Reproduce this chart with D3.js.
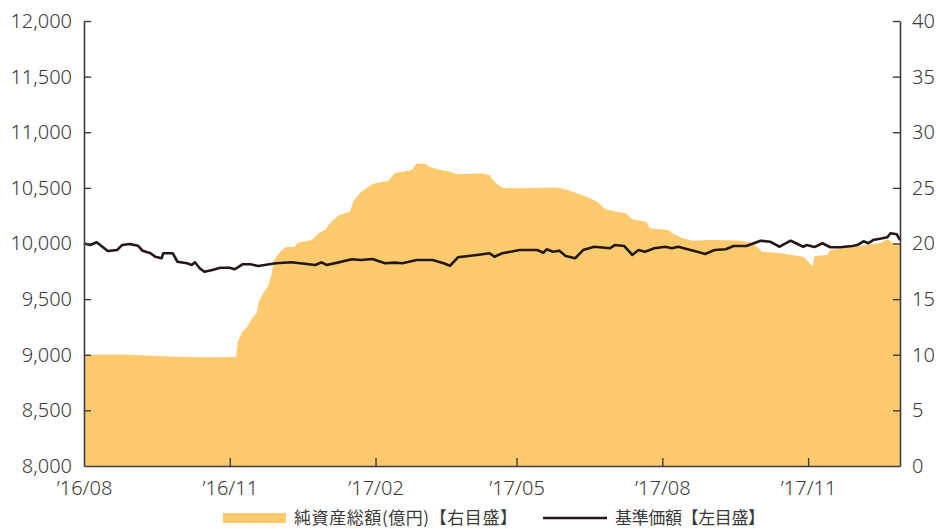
<!DOCTYPE html>
<html>
<head>
<meta charset="utf-8">
<script src="https://cdn.jsdelivr.net/npm/d3@7/dist/d3.min.js"></script>
<style>
  html, body { margin: 0; padding: 0; background: #ffffff; }
  svg { display: block; }
  text { font-family: "Noto Sans", "Noto Sans CJK JP", sans-serif; fill: #3a3a3a; }
  .legend text { font-family: "Noto Sans CJK JP", sans-serif; }
</style>
</head>
<body>
<svg id="chart" width="936" height="529"></svg>
<script>
// ---------- data ----------
const navDates = ["2016-08-01","2016-08-05","2016-08-09","2016-08-16","2016-08-22","2016-08-25","2016-08-30","2016-09-04","2016-09-07","2016-09-12","2016-09-15","2016-09-19","2016-09-20","2016-09-26","2016-09-29","2016-10-05","2016-10-08","2016-10-10","2016-10-13","2016-10-16","2016-10-21","2016-10-26","2016-11-01","2016-11-04","2016-11-09","2016-11-14","2016-11-19","2016-11-30","2016-12-10","2016-12-25","2016-12-29","2017-01-01","2017-01-08","2017-01-17","2017-01-23","2017-01-30","2017-02-07","2017-02-13","2017-02-18","2017-02-27","2017-03-09","2017-03-16","2017-03-20","2017-03-25","2017-04-06","2017-04-14","2017-04-17","2017-04-22","2017-05-03","2017-05-14","2017-05-18","2017-05-20","2017-05-24","2017-05-28","2017-06-01","2017-06-07","2017-06-12","2017-06-19","2017-06-29","2017-07-02","2017-07-08","2017-07-13","2017-07-17","2017-07-21","2017-07-27","2017-08-03","2017-08-07","2017-08-11","2017-08-17","2017-08-23","2017-08-28","2017-09-03","2017-09-10","2017-09-15","2017-09-23","2017-10-02","2017-10-08","2017-10-14","2017-10-21","2017-10-29","2017-10-31","2017-11-05","2017-11-10","2017-11-15","2017-11-21","2017-11-29","2017-12-02","2017-12-06","2017-12-09","2017-12-12","2017-12-18","2017-12-21","2017-12-23","2017-12-27","2017-12-29"];
const navValues = [10000,9986,10011,9933,9942,9986,9995,9980,9935,9912,9881,9867,9912,9912,9836,9822,9807,9831,9777,9746,9762,9782,9782,9768,9813,9813,9798,9822,9831,9807,9831,9807,9828,9858,9852,9861,9822,9828,9822,9852,9852,9822,9800,9876,9897,9912,9881,9912,9941,9941,9917,9948,9926,9935,9888,9867,9941,9971,9957,9986,9977,9897,9941,9926,9957,9971,9957,9971,9948,9926,9906,9941,9948,9977,9977,10025,10016,9971,10025,9971,9986,9968,10002,9966,9966,9977,9986,10020,10002,10031,10047,10056,10092,10083,10031];

const aumDates = ["2016-08-01","2016-08-30","2016-09-28","2016-10-17","2016-11-04","2016-11-05","2016-11-06","2016-11-09","2016-11-12","2016-11-15","2016-11-18","2016-11-19","2016-11-22","2016-11-25","2016-11-27","2016-11-29","2016-12-02","2016-12-06","2016-12-12","2016-12-14","2016-12-23","2016-12-27","2016-12-31","2017-01-04","2017-01-09","2017-01-16","2017-01-18","2017-01-23","2017-01-30","2017-02-05","2017-02-09","2017-02-13","2017-02-24","2017-02-27","2017-03-05","2017-03-07","2017-03-12","2017-03-20","2017-03-24","2017-03-30","2017-04-09","2017-04-14","2017-04-16","2017-04-18","2017-04-22","2017-05-01","2017-05-26","2017-06-01","2017-06-08","2017-06-15","2017-06-21","2017-06-26","2017-07-03","2017-07-09","2017-07-13","2017-07-22","2017-07-24","2017-08-05","2017-08-07","2017-08-13","2017-08-20","2017-08-31","2017-09-19","2017-09-27","2017-10-03","2017-10-14","2017-10-22","2017-10-29","2017-11-02","2017-11-04","2017-11-05","2017-11-13","2017-11-15","2017-11-29","2017-12-16","2017-12-21","2017-12-25","2017-12-29"];
const aumValues = [10.0,10.0,9.83,9.77,9.8,9.8,11.17,12.07,12.52,13.28,13.73,14.62,15.52,16.12,17.02,18.52,19.12,19.66,19.71,20.07,20.31,20.92,21.21,21.96,22.56,22.86,23.82,24.66,25.35,25.56,25.62,26.31,26.61,27.21,27.15,26.9,26.67,26.45,26.25,26.25,26.31,26.16,25.71,25.41,25.02,24.96,25.04,24.87,24.51,24.15,23.76,23.07,22.86,22.71,22.16,21.96,21.37,21.21,20.92,20.52,20.25,20.31,20.28,20.04,19.26,19.15,18.97,18.81,18.22,17.98,18.88,18.97,19.42,19.71,20.02,20.38,20.02,19.96];

const leftTicks = [8000,8500,9000,9500,10000,10500,11000,11500,12000];
const rightTicks = [0,5,10,15,20,25,30,35,40];
const xTickDates = ["2016-08-01","2016-11-01","2017-02-01","2017-05-01","2017-08-01","2017-11-01"];
const xTickLabels = ["’16/08","’16/11","’17/02","’17/05","’17/08","’17/11"];
const xDomain = ["2016-08-01","2017-12-29"];
const legendLabels = ["純資産総額(億円)【右目盛】","基準価額【左目盛】"];

// ---------- chart ----------
const parse = d3.timeParse("%Y-%m-%d");
const margin = {top: 21, right: 36, bottom: 63, left: 84};
const W = 936, H = 529;
const iw = W - margin.left - margin.right;
const ih = H - margin.top - margin.bottom;

const svg = d3.select("#chart");
const g = svg.append("g").attr("transform", `translate(${margin.left},${margin.top})`);

const x = d3.scaleTime().domain(xDomain.map(parse)).range([0, iw]);
const yL = d3.scaleLinear().domain([8000, 12000]).range([ih, 0]);
const yR = d3.scaleLinear().domain([0, 40]).range([ih, 0]);

const aum = aumDates.map((d, i) => ({date: parse(d), v: aumValues[i]}));
const nav = navDates.map((d, i) => ({date: parse(d), v: navValues[i]}));

const areaColor = "#fdcb6e";
const lineColor = "#231815";
const axisColor = "#3c3c3c";

g.append("path")
  .datum(aum)
  .attr("fill", areaColor)
  .attr("d", d3.area().x(d => x(d.date)).y0(yR(0)).y1(d => yR(d.v)));

g.append("path")
  .datum(nav)
  .attr("fill", "none")
  .attr("stroke", lineColor)
  .attr("stroke-width", 2.6)
  .attr("stroke-linejoin", "round")
  .attr("d", d3.line().x(d => x(d.date)).y(d => yL(d.v)));

// axes
const fmt = d3.format(",");
const axL = g.append("g")
  .call(d3.axisLeft(yL).tickValues(leftTicks).tickFormat(fmt).tickSize(-7).tickSizeOuter(0).tickPadding(12));
const axR = g.append("g").attr("transform", `translate(${iw},0)`)
  .call(d3.axisRight(yR).tickValues(rightTicks).tickSize(-7).tickSizeOuter(0).tickPadding(12));
const axB = g.append("g").attr("transform", `translate(0,${ih})`)
  .call(d3.axisBottom(x).tickValues(xTickDates.map(parse))
    .tickFormat((d, i) => xTickLabels[i]).tickSize(-8).tickSizeOuter(0).tickPadding(15));

[axL, axR, axB].forEach(a => {
  a.select(".domain").attr("stroke", axisColor).attr("stroke-width", 1.6);
  a.selectAll(".tick line").attr("stroke", axisColor).attr("stroke-width", 1.4);
  a.selectAll(".tick text").attr("font-size", 20).attr("fill", "#3a3a3a")
    .attr("font-family", "'Noto Sans', sans-serif").attr("font-weight", 300);
});
axL.selectAll(".tick").filter(d => d === 8000).select("line").remove();
axR.selectAll(".tick").filter(d => d === 0).select("line").remove();
axB.selectAll(".tick").filter((d, i) => i === 0).select("line").remove();

// legend
const lg = svg.append("g").attr("class", "legend");
lg.append("rect").attr("x", 223).attr("y", 513).attr("width", 63).attr("height", 10).attr("fill", areaColor);
lg.append("text").attr("x", 294).attr("y", 518).attr("dy", "0.35em")
  .attr("font-size", 17).attr("textLength", 223).text(legendLabels[0]);
lg.append("line").attr("x1", 543).attr("x2", 607).attr("y1", 518).attr("y2", 518)
  .attr("stroke", lineColor).attr("stroke-width", 2.6);
lg.append("text").attr("x", 615).attr("y", 518).attr("dy", "0.35em")
  .attr("font-size", 17).attr("textLength", 150).text(legendLabels[1]);
</script>
</body>
</html>
